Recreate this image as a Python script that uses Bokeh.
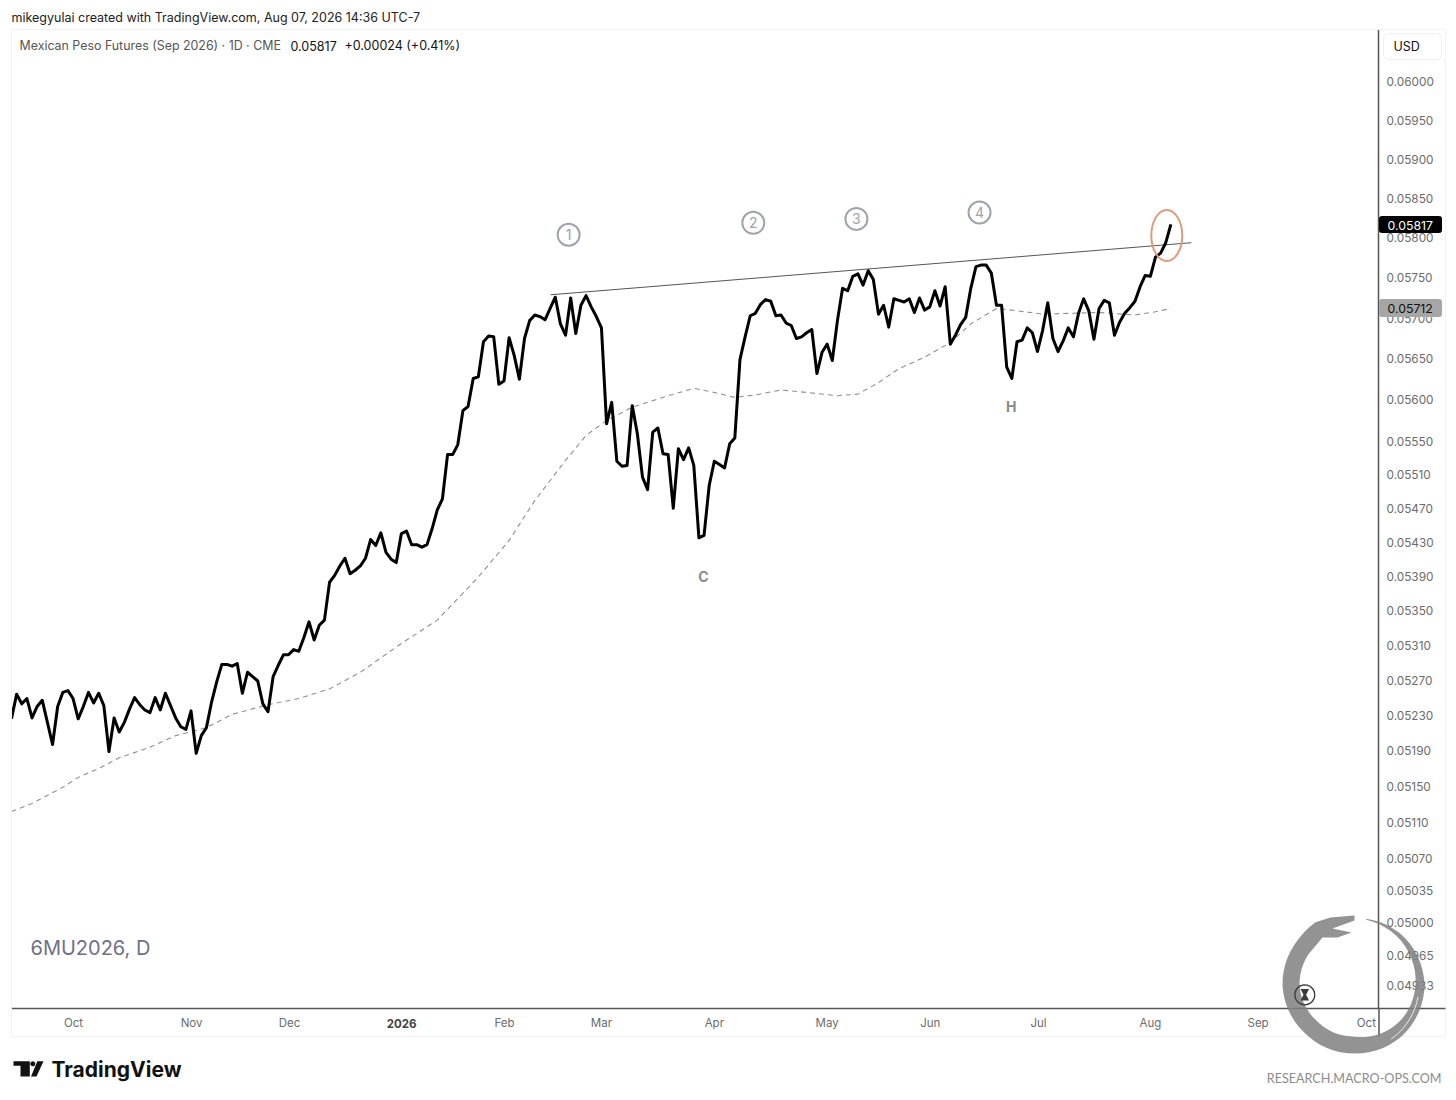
import numpy as np
from bokeh.plotting import figure
from bokeh.layouts import column
from bokeh.embed import file_html
from bokeh.resources import INLINE
from bokeh.core.properties import value
from bokeh.models import Range1d, FixedTicker, NumeralTickFormatter

# ---------- data ----------
close = [
 .05226,.05254,.05243,.05249,.05227,.05240,.05247,.05222,.05197,.05240,
 .05256,.05258,.05249,.05226,.05240,.05256,.05244,.05255,.05241,.05189,
 .05227,.05211,.05222,.05237,.05250,.05242,.05236,.05233,.05250,.05236,
 .05255,.05241,.05227,.05217,.05214,.05235,.05187,.05207,.05216,.05245,
 .05268,.05288,.05288,.05286,.05289,.05255,.05279,.05274,.05269,.05243,
 .05234,.05274,.05287,.05299,.05299,.05305,.05303,.05319,.05337,.05316,
 .05333,.05339,.05383,.05391,.05402,.05411,.05393,.05397,.05402,.05411,
 .05433,.05426,.05441,.05418,.05410,.05406,.05440,.05443,.05427,.05427,
 .05424,.05427,.05446,.05468,.05481,.05534,.05534,.05546,.05587,.05592,
 .05626,.05628,.05671,.05678,.05677,.05619,.05623,.05676,.05654,.05625,
 .05675,.05697,.05704,.05702,.05698,.05712,.05726,.05693,.05679,.05725,
 .05681,.05716,.05728,.05714,.05702,.05688,.05571,.05597,.05526,.05520,
 .05521,.05593,.05559,.05507,.05492,.05561,.05566,.05535,.05534,.05470,
 .05541,.05528,.05542,.05521,.05435,.05438,.05497,.05526,.05522,.05518,
 .05547,.05554,.05649,.05677,.05703,.05706,.05717,.05723,.05721,.05703,
 .05704,.05694,.05691,.05675,.05677,.05682,.05686,.05632,.05658,.05668,
 .05648,.05697,.05737,.05734,.05752,.05755,.05741,.05759,.05748,.05705,
 .05716,.05689,.05724,.05722,.05720,.05724,.05707,.05725,.05710,.05714,
 .05734,.05715,.05739,.05668,.05679,.05692,.05701,.05737,.05764,.05766,
 .05766,.05756,.05716,.05716,.05640,.05626,.05671,.05673,.05688,.05682,
 .05659,.05685,.05719,.05675,.05659,.05672,.05688,.05677,.05706,.05724,
 .05709,.05674,.05712,.05722,.05719,.05679,.05695,.05706,.05713,.05721,
 .05739,.05753,.05752,.05776,.05781,.05794,.05817,
]
ma_index = [0,4,10,13,17,21,27,32,38,43,50,56,62,68,76,83,87,91,97,102,108,112,116,121,128,
            133,137,141,145,150,155,161,165,169,173,178,183,187,192,195,201,206,212,219,223,226]
ma_value = [.05122,.05131,.05149,.05160,.05170,.05182,.05194,.05207,.05216,.05231,.05242,.05249,
            .05260,.05279,.05312,.05339,.05364,.05389,.05432,.05479,.05527,.05557,.05575,.05591,
            .05605,.05614,.05609,.05603,.05606,.05612,.05609,.05605,.05607,.05621,.05638,.05652,
            .05670,.05693,.05712,.05710,.05705,.05706,.05707,.05704,.05708,.05712]
trend_index = [105.1, 230.0]
trend_value = [.05729, .05794]
price_ticks = [.06,.0595,.059,.0585,.058,.0575,.057,.0565,.056,.0555,.0551,.0547,.0543,.0539,
               .0535,.0531,.0527,.0523,.0519,.0515,.0511,.0507,.05035,.05,.04965,.04933]
month_index = [12.1,35.1,54.2,76,96.1,115,137,159,179.1,200.2,222,243,264.1]
month_label = ["Oct","Nov","Dec","2026","Feb","Mar","Apr","May","Jun","Jul","Aug","Sep","Oct"]
circle_index = [108.6,144.6,164.7,188.7]
circle_value = [.05804,.05819,.05824,.05832]
circle_text = ["1","2","3","4"]
letter_index = [134.9,194.9]
letter_value = [.05390,.05592]
letter_text = ["C","H"]

GREY = "#6b6b6b"
FONT = "Inter"
W, H = 1448, 1092

p = figure(width=W, height=H, output_backend="svg", toolbar_location=None,
           y_axis_type="log", y_axis_location="right",
           x_range=Range1d(0, 266.47), y_range=Range1d(.04908, .06068),
           min_border_left=11, min_border_right=70, min_border_top=29, min_border_bottom=84,
           background_fill_color="white", border_fill_color="white", outline_line_color=None,
           frame_align=False)
p.grid.visible = False

ya = p.yaxis[0]
ya.ticker = FixedTicker(ticks=price_ticks)
ya.formatter = NumeralTickFormatter(format="0.00000")
ya.axis_line_color = "#555555"; ya.axis_line_width = 1.5
ya.major_tick_line_color = None; ya.minor_tick_line_color = None
ya.major_label_text_font = FONT
ya.major_label_text_font_size = "11.8px"; ya.major_label_text_color = GREY
ya.major_label_standoff = 2

xa = p.xaxis[0]
xa.ticker = FixedTicker(ticks=month_index)
xa.major_label_overrides = {m: ("" if l == "2026" else l) for m, l in zip(month_index, month_label)}
xa.axis_line_color = "#555555"; xa.axis_line_width = 1.5
xa.major_tick_line_color = None; xa.minor_tick_line_color = None
xa.major_label_text_font = FONT; xa.major_label_text_font_size = "11.5px"
xa.major_label_text_color = GREY; xa.major_label_standoff = 1

idx = list(range(len(close)))
p.line(ma_index, ma_value, line_color="#8f8f8f", line_width=1.1, line_dash="5 4")
p.line(trend_index, trend_value, line_color="#555555", line_width=1)
p.line(idx, close, line_color="black", line_width=3, line_join="round")

p.ellipse(x=[225.2], y=[.05803], width=[31], height=[51], width_units="screen", height_units="screen",
          fill_alpha=0, line_color="#DD9C7C", line_width=2)
p.scatter(circle_index, circle_value, size=22, marker="circle", fill_alpha=0,
          line_color="#9ea2ab", line_width=2)
p.text(circle_index, circle_value, text=circle_text, text_align="center", text_baseline="middle",
       text_color="#9ea2ab", text_font=value(FONT), text_font_size="14px")
p.text(letter_index, letter_value, text=letter_text, text_align="center", text_baseline="middle",
       text_color="#8a8a8a", text_font=value(FONT), text_font_style="bold", text_font_size="14px")

# transparent overlay spanning the whole page for the chrome around the plot area
q = figure(width=W, height=H, output_backend="svg", toolbar_location=None,
           x_range=Range1d(0, W), y_range=Range1d(H, 0),
           min_border=0, margin=(-H, 0, 0, 0), background_fill_alpha=0, border_fill_alpha=0,
           outline_line_color=None, x_axis_location=None, y_axis_location=None,
           frame_align=False)
q.grid.visible = False

def text(t, x, y, size, color, align="left", font=FONT, style="normal"):
    q.text([x], [y], text=[t], text_font=value(font), text_font_size=size, text_color=color,
           text_align=align, text_baseline="middle", text_font_style=style)

def box(l, r, t, b, fill, line=None, radius=2):
    q.quad(left=[l], right=[r], top=[t], bottom=[b], fill_color=fill, line_color=line or fill,
           border_radius=radius)

# panel frame and axis prolongations
q.line([11, 1445, 1445, 11, 11], [29, 29, 1036, 1036, 29], line_color="#f3f3f3", line_width=1)
q.line([1378, 1445], [1008, 1008], line_color="#555555", line_width=1.5)
q.line([1378.5, 1378.5], [1008, 1036], line_color="#555555", line_width=1.5)

# header
text("mikegyulai created with TradingView.com, Aug 07, 2026 14:36 UTC-7", 11, 16.5, "12.5px", "#222222")
text("Mexican Peso Futures (Sep 2026) · 1D · CME", 19, 45, "12.4px", "#555555")
text("0.05817", 290, 45, "12.5px", "#111111")
text("+0.00024 (+0.41%)", 344, 45, "12.5px", "#111111")
text("2026", 401, 1022.5, "11.5px", "#444444", align="center", style="bold")
text("6MU2026, D", 30, 947, "20px", "#6f7086")

# currency box and last-price tags
box(1383, 1441, 33, 59, "white", "#f0f0f0", 5)
text("USD", 1393, 46, "12.5px", "#111111")
box(1379, 1441, 216, 232, "#000000")
text("0.05817", 1387, 224.5, "12.3px", "#ffffff")
box(1379, 1441, 299, 316, "#a6a6a6")
text("0.05712", 1387, 308, "12.3px", "#111111")

# TradingView mark
q.patch([13, 29.3, 29.3, 20, 20, 13], [1060.7, 1060.7, 1076, 1076, 1065.3, 1065.3], fill_color="#111111", line_color=None)
t = np.linspace(0, 2 * np.pi, 20)
q.patch(32.3 + 2.5 * np.cos(t), 1063.3 + 2.5 * np.sin(t), fill_color="#111111", line_color=None)
q.patch([36.8, 43, 36, 30.5], [1060.7, 1060.7, 1076, 1076], fill_color="#111111", line_color=None)
text("TradingView", 51, 1068.5, "21px", "#111111", style="bold")
text("RESEARCH.MACRO-OPS.COM", 1441, 1078, "12.6px", "#8c8c8c", align="right", font="Lato")

# ouroboros watermark
cx, cy = 1353, 985
ang = np.arange(11, 333, 6.0)
outer = np.interp(ang, [11, 45, 90, 135, 180, 225, 270, 310, 332], [68, 70, 71, 70, 68, 68, 71, 72, 74])
thick = np.interp(ang, [11, 30, 60, 90, 120, 150, 180, 225, 270, 300, 332], [1, 3, 6, 9, 11, 14, 17, 17, 17, 17, 18])
a = np.radians(ang)
ox = cx + outer * np.sin(a); oy = cy - outer * np.cos(a)
keep = ang <= 309
ix = cx + (outer - thick)[keep] * np.sin(a[keep]); iy = cy - (outer - thick)[keep] * np.cos(a[keep])
hx = [1330, 1354, 1354, 1332, 1351, 1337, 1322]
hy = [917, 915, 920, 928, 932, 937, 937]
q.patch(list(ox) + hx + list(ix[::-1]), list(oy) + hy + list(iy[::-1]), fill_color="#808080", fill_alpha=0.85, line_color=None)
w = np.radians(np.arange(100, 146, 5.0))
q.line(cx + 65.5 * np.sin(w), cy - 65.5 * np.cos(w), line_color="white", line_width=0.8)
q.line(1304.3 + 10 * np.cos(t), 994.3 + 10 * np.sin(t), line_color="#3c3c3c", line_width=1.4)
q.patch([1300, 1308.6, 1305.6, 1308.6, 1300, 1303], [988.5, 988.5, 994.3, 1000, 1000, 994.3], fill_color="#3c3c3c", line_color=None)

open("out.html", "w").write(file_html(column(p, q), INLINE))
